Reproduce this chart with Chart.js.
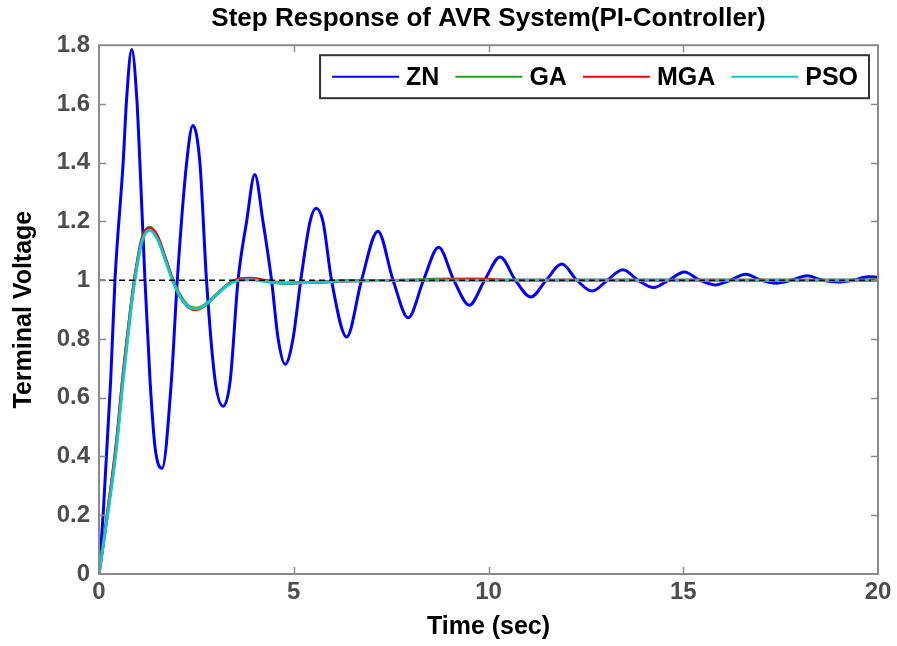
<!DOCTYPE html>
<html>
<head>
<meta charset="utf-8">
<script src="https://cdn.jsdelivr.net/npm/chart.js@4.4.1/dist/chart.umd.min.js"></script>
<style>
  body { margin: 0; background: #fff; }
  canvas { display: block; }
</style>
</head>
<body>
<canvas id="chart" width="897" height="646"></canvas>
<script>
// ZN controller response (peaks, troughs, crossings)
const zn_t = [0, 0.11, 0.3, 0.41, 0.62, 0.71, 0.84, 0.97, 1.05, 1.18, 1.31, 1.44, 1.62,
  1.86, 2.01, 2.25, 2.41, 2.59, 2.76, 2.98, 3.19,
  3.37, 3.57, 3.79, 4.0, 4.21, 4.43, 4.6, 4.78,
  4.98, 5.18, 5.42, 5.57, 5.75, 5.97, 6.36, 6.74, 7.16,
  7.55, 7.94, 8.33, 8.72, 9.11, 9.51, 9.9, 10.3, 10.69, 11.09, 11.48, 11.88,
  12.27, 12.66, 13.05, 13.45, 13.84, 14.24, 14.63, 15.03, 15.42, 15.82, 16.21, 16.6,
  17.0, 17.39, 17.78, 18.18, 18.57, 18.97, 19.36, 19.75, 20];
const zn_v = [0, 0.21, 0.66, 1.0, 1.4, 1.62, 1.785, 1.62, 1.4, 1.0, 0.66, 0.43, 0.36,
  0.66, 1.0, 1.4, 1.527, 1.4, 1.0, 0.66, 0.571,
  0.66, 1.0, 1.2, 1.36, 1.2, 1.0, 0.8, 0.714,
  0.8, 1.0, 1.2, 1.245, 1.2, 1.0, 0.807, 1.0, 1.167,
  1.0, 0.872, 1.0, 1.112, 1.0, 0.915, 1.0, 1.079, 1.0, 0.943, 1.0, 1.055,
  1.0, 0.963, 1.0, 1.036, 1.0, 0.975, 1.0, 1.028, 1.0, 0.984, 1.0, 1.02,
  1.0, 0.99, 1.0, 1.015, 1.0, 0.994, 1.0, 1.012, 1.01];

// GA / MGA / PSO tuned controllers share one time base
const ctrl_t = [0, 0.2, 0.45, 0.62, 0.81, 0.92, 1.1, 1.3, 1.5, 1.7, 1.9, 2.1, 2.3, 2.5, 2.7,
  3.0, 3.3, 3.6, 3.9, 4.3, 4.8, 5.5, 6.5, 8, 8.5, 9, 9.5, 10, 10.5, 12, 14, 20];
const ga_v = [0, 0.19, 0.45, 0.68, 0.9, 1.01, 1.14, 1.18, 1.15, 1.075, 1.0, 0.945, 0.912, 0.905, 0.915,
  0.95, 0.985, 1.004, 1.006, 0.998, 0.99, 0.993, 0.998, 1.0, 1.003, 1.004, 1.002, 1.0, 1.0, 1.0, 1.0, 1.0];
const mga_v = [0, 0.19, 0.45, 0.68, 0.9, 1.01, 1.14, 1.178, 1.15, 1.077, 1.0, 0.942, 0.908, 0.9, 0.912,
  0.948, 0.985, 1.004, 1.007, 0.998, 0.99, 0.993, 0.998, 1.0, 1.0, 1.002, 1.004, 1.003, 1.0, 1.0, 1.0, 1.0];
const pso_v = [0, 0.18, 0.43, 0.66, 0.89, 1.0, 1.13, 1.17, 1.14, 1.07, 0.995, 0.94, 0.91, 0.903, 0.913,
  0.948, 0.983, 1.0, 1.002, 0.995, 0.99, 0.993, 0.998, 1.0, 1.0, 1.0, 1.0, 1.0, 1.0, 1.0, 1.0, 1.0];

const ref_t = [0, 20];
const ref_v = [1, 1];

const x_ticks = [0, 5, 10, 15, 20];
const y_ticks = [0, 0.2, 0.4, 0.6, 0.8, 1, 1.2, 1.4, 1.6, 1.8];
const y_labels = ['0', '0.2', '0.4', '0.6', '0.8', '1', '1.2', '1.4', '1.6', '1.8'];

const FONT = '"Liberation Sans", Arial, sans-serif';
Chart.defaults.font.family = FONT;

function pts(t, v) { return t.map((x, i) => ({ x: x, y: v[i] })); }

function line(label, t, v, color, order) {
  return {
    label: label, data: pts(t, v), borderColor: color, backgroundColor: color,
    borderWidth: 3, pointRadius: 0, cubicInterpolationMode: 'monotone', order: order
  };
}

// box frame with inward ticks on all four sides
const framePlugin = {
  id: 'frame',
  afterDatasetsDraw(chart) {
    const ctx = chart.ctx, a = chart.chartArea;
    const xs = chart.scales.x, ys = chart.scales.y;
    ctx.save();
    ctx.strokeStyle = '#8a8a8a';
    ctx.lineWidth = 1.5;
    ctx.beginPath();
    x_ticks.slice(1, -1).forEach(v => {
      const px = Math.round(xs.getPixelForValue(v)) + 0.5;
      ctx.moveTo(px, a.bottom); ctx.lineTo(px, a.bottom - 7);
      ctx.moveTo(px, a.top); ctx.lineTo(px, a.top + 7);
    });
    y_ticks.slice(1, -1).forEach(v => {
      const py = Math.round(ys.getPixelForValue(v)) + 0.5;
      ctx.moveTo(a.left, py); ctx.lineTo(a.left + 7, py);
      ctx.moveTo(a.right, py); ctx.lineTo(a.right - 7, py);
    });
    ctx.stroke();
    ctx.lineWidth = 2;
    ctx.strokeRect(a.left, a.top, a.right - a.left, a.bottom - a.top);
    ctx.restore();
  }
};

// legend drawn as a boxed single row in the upper right, like the original
const legendPlugin = {
  id: 'boxLegend',
  afterDraw(chart) {
    const ctx = chart.ctx, a = chart.chartArea;
    const items = chart.data.datasets.filter(d => d.label);
    ctx.save();
    ctx.font = 'bold 25px ' + FONT;
    const lineLen = 67, gap = 7, spacing = 16, padL = 12, padR = 11;
    let w = padL + padR;
    items.forEach((d, i) => { w += lineLen + gap + ctx.measureText(d.label).width + (i ? spacing : 0); });
    const right = a.right - 9, top = a.top + 10, h = 43;
    const left = right - w;
    ctx.fillStyle = '#fff';
    ctx.fillRect(left, top, w, h);
    ctx.strokeStyle = '#333';
    ctx.lineWidth = 2;
    ctx.strokeRect(left, top, w, h);
    let x = left + padL;
    const cy = top + h / 2;
    items.forEach(d => {
      ctx.strokeStyle = d.legendColor || d.borderColor;
      ctx.lineWidth = 2;
      ctx.beginPath();
      ctx.moveTo(x, cy); ctx.lineTo(x + lineLen, cy);
      ctx.stroke();
      x += lineLen + gap;
      ctx.fillStyle = '#000';
      ctx.textBaseline = 'middle';
      ctx.fillText(d.label, x, cy + 1);
      x += ctx.measureText(d.label).width + spacing;
    });
    ctx.restore();
  }
};

const tickFont = { size: 24, weight: 'bold', family: FONT };

new Chart(document.getElementById('chart'), {
  type: 'line',
  data: {
    datasets: [
      line('ZN', zn_t, zn_v, '#0000ff', 4),
      line('GA', ctrl_t, ga_v, '#1aa51a', 3),
      line('MGA', ctrl_t, mga_v, '#ff0000', 2),
      line('PSO', ctrl_t, pso_v, '#10c8c8', 1),
      {
        label: '', data: pts(ref_t, ref_v), borderColor: '#000', borderWidth: 1.5,
        borderDash: [6, 4], pointRadius: 0, order: 0
      }
    ]
  },
  options: {
    responsive: false,
    devicePixelRatio: 1,
    animation: false,
    layout: { padding: { left: 0, right: 19, top: 0, bottom: 0 } },
    plugins: {
      legend: { display: false },
      tooltip: { enabled: false },
      title: {
        display: true,
        fullSize: false,
        text: 'Step Response of AVR System(PI-Controller)',
        color: '#000',
        font: { size: 26, weight: 'bold', family: FONT },
        padding: { top: 3, bottom: 11 }
      }
    },
    scales: {
      x: {
        type: 'linear', min: 0, max: 20,
        grid: { display: false, drawTicks: false },
        border: { display: false },
        afterBuildTicks: s => { s.ticks = x_ticks.map(v => ({ value: v })); },
        afterFit: s => { s.height = 72; },
        ticks: { color: '#4d4d4d', font: tickFont, padding: 4, maxRotation: 0 },
        title: {
          display: true, text: 'Time (sec)', color: '#000',
          font: { size: 25, weight: 'bold', family: FONT },
          padding: { top: 0, bottom: 4 }
        }
      },
      y: {
        min: 0, max: 1.8,
        grid: { display: false, drawTicks: false },
        border: { display: false },
        afterBuildTicks: s => { s.ticks = y_ticks.map(v => ({ value: v })); },
        afterFit: s => { s.width = 99; },
        ticks: {
          color: '#4d4d4d', font: tickFont, padding: 9,
          callback: v => y_labels[y_ticks.indexOf(Math.round(v * 10) / 10)]
        },
        title: {
          display: true, text: 'Terminal Voltage', color: '#000',
          font: { size: 25, weight: 'bold', family: FONT },
          padding: { top: 9, bottom: 0 }
        }
      }
    }
  },
  plugins: [framePlugin, legendPlugin]
});
</script>
</body>
</html>
